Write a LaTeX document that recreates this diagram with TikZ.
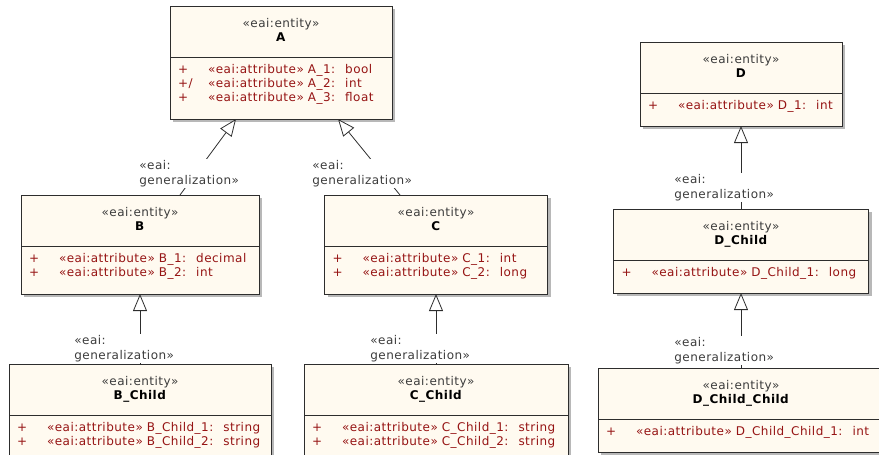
\documentclass[tikz,border=0pt]{standalone}
\usepackage{fontspec}
\setmainfont{DejaVu Sans}[LetterSpace=4]
\usepackage{xcolor}
\usepackage{tikz}
\usetikzlibrary{arrows.meta,positioning,shadows}

\definecolor{classfill}{RGB}{255,250,240}
\definecolor{classdraw}{RGB}{45,45,45}
\definecolor{attrred}{RGB}{150,20,20}
\definecolor{stereogray}{RGB}{60,60,60}
\newcommand{\attrrow}[3]{\mbox{\makebox[30pt][l]{#1}«eai:attribute» #2:\hspace{10pt}#3}}

\begin{document}
\begin{tikzpicture}[
    x=1pt, y=-1pt,
    head/.style={draw=classdraw, fill=classfill, line width=0.9pt, outer sep=0pt, anchor=north, minimum height=51pt, align=center, font=\fontsize{12}{14}\selectfont, drop shadow={shadow xshift=3pt, shadow yshift=-3pt, fill=black!28, opacity=1}},
    attrs/.style={draw=classdraw, fill=classfill, line width=0.9pt, outer sep=0pt, inner xsep=8pt, inner ysep=7.3pt, align=left, text=attrred, font=\fontsize{12}{14}\selectfont, drop shadow={shadow xshift=3pt, shadow yshift=-3pt, fill=black!28, opacity=1}},
    gen/.style={-{Triangle[length=17pt, width=14pt, fill=white]}, line width=0.8pt, draw=classdraw},
    genlabel/.style={fill=white, inner sep=1pt, align=left, text=stereogray, font=\fontsize{12}{15}\selectfont, anchor=south west, pos=0},
]
    \useasboundingbox (0,0) rectangle (879,455);

    % left tree
    \node[head, minimum width=222pt] (A) at (281,6) {{\color{stereogray}«eai:entity»}\\\textbf{A}\\[-10pt]\mbox{}};
    \node[attrs, text width=206pt, below=0pt of A] (A_attr) {\attrrow{+}{A\_1}{bool}\\\attrrow{+/}{A\_2}{int}\\\attrrow{+}{A\_3}{float}\\[-3.7pt]\mbox{}};

    \node[head, minimum width=238pt] (B) at (140,195) {{\color{stereogray}«eai:entity»}\\\textbf{B}\\[-10pt]\mbox{}};
    \node[attrs, text width=222pt, below=0pt of B] (B_attr) {\attrrow{+}{B\_1}{decimal}\\\attrrow{+}{B\_2}{int}\\[-3.7pt]\mbox{}};

    \node[head, minimum width=223pt] (C) at (436,195) {{\color{stereogray}«eai:entity»}\\\textbf{C}\\[-10pt]\mbox{}};
    \node[attrs, text width=207pt, below=0pt of C] (C_attr) {\attrrow{+}{C\_1}{int}\\\attrrow{+}{C\_2}{long}\\[-3.7pt]\mbox{}};

    \node[head, minimum width=262pt, below=70pt of B_attr] (B_child) {{\color{stereogray}«eai:entity»}\\\textbf{B\_Child}\\[-10pt]\mbox{}};
    \node[attrs, text width=246pt, below=0pt of B_child] (B_child_attr) {\attrrow{+}{B\_Child\_1}{string}\\\attrrow{+}{B\_Child\_2}{string}\\[-3.7pt]\mbox{}};

    \node[head, minimum width=264pt, below=70pt of C_attr] (C_child) {{\color{stereogray}«eai:entity»}\\\textbf{C\_Child}\\[-10pt]\mbox{}};
    \node[attrs, text width=248pt, below=0pt of C_child] (C_child_attr) {\attrrow{+}{C\_Child\_1}{string}\\\attrrow{+}{C\_Child\_2}{string}\\[-3.7pt]\mbox{}};

    % right tree
    \node[head, minimum width=202pt] (D) at (741,42) {{\color{stereogray}«eai:entity»}\\\textbf{D}\\[-10pt]\mbox{}};
    \node[attrs, text width=186pt, below=0pt of D] (D_attr) {\attrrow{+}{D\_1}{int}\\[-4.7pt]\mbox{}};

    \node[head, minimum width=255pt, below=83pt of D_attr] (D_child) {{\color{stereogray}«eai:entity»}\\\textbf{D\_Child}\\[-10pt]\mbox{}};
    \node[attrs, text width=239pt, below=0pt of D_child] (D_child_attr) {\attrrow{+}{D\_Child\_1}{long}\\[-4.7pt]\mbox{}};

    \node[head, minimum width=286pt, below=75pt of D_child_attr] (D_child_child) {{\color{stereogray}«eai:entity»}\\\textbf{D\_Child\_Child}\\[-10pt]\mbox{}};
    \node[attrs, text width=270pt, below=0pt of D_child_child] (D_child_child_attr) {\attrrow{+}{D\_Child\_Child\_1}{int}\\[-4.7pt]\mbox{}};

    % generalizations
    \draw[gen] ([xshift=40pt]B.north) -- ([xshift=-45pt]A_attr.south) node[genlabel, xshift=-42pt, yshift=7pt] (gen_B) {«eai:\\generalization»};
    \draw[gen] ([xshift=-36pt]C.north) -- ([xshift=57pt]A_attr.south) node[genlabel, xshift=-89pt, yshift=7pt] (gen_C) {«eai:\\generalization»};
    \draw[gen] (B_child.north) -- (B_attr.south) node[genlabel, xshift=-67pt, yshift=1pt] (gen_B_child) {«eai:\\generalization»};
    \draw[gen] (C_child.north) -- (C_attr.south) node[genlabel, xshift=-67pt, yshift=1pt] (gen_C_child) {«eai:\\generalization»};
    \draw[gen] (D_child.north) -- (D_attr.south) node[genlabel, xshift=-68pt, yshift=7pt] (gen_D_child) {«eai:\\generalization»};
    \draw[gen] (D_child_child.north) -- (D_child_attr.south) node[genlabel, xshift=-68pt, yshift=3pt] (gen_D_child_child) {«eai:\\generalization»};
\end{tikzpicture}
\end{document}
